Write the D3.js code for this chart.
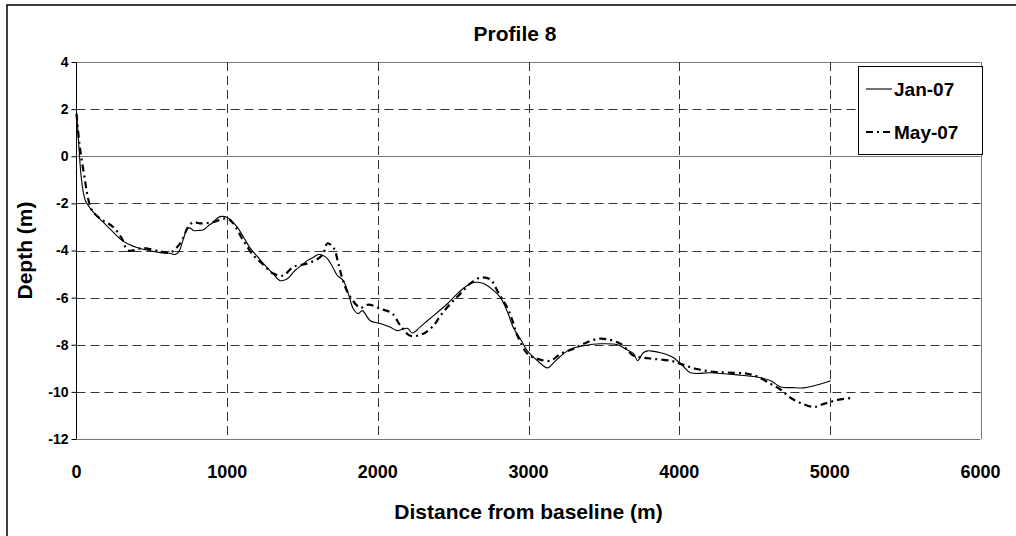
<!DOCTYPE html>
<html>
<head>
<meta charset="utf-8">
<script src="https://cdn.jsdelivr.net/npm/d3@7"></script>
<style>
  body { margin: 0; background: #fff; }
  text { font-family: 'Liberation Sans', Arial, sans-serif; font-weight: bold; fill: #000; }
</style>
</head>
<body>
<div id="content"></div>
<script>
// Data-set: distance from baseline (m) and depth (m) for each survey.
var janDist = [0, 10, 20, 30, 43, 60, 90, 130, 177, 240, 302, 350, 400, 480, 555, 620, 655, 680, 700, 720,
  734, 755, 776, 810, 842, 875, 907, 940, 966, 1000, 1030, 1066, 1110, 1153, 1200, 1239, 1300, 1352, 1399, 1450,
  1500, 1532, 1570, 1605, 1640, 1665, 1700, 1731, 1771, 1804, 1837, 1870, 1897, 1950, 2017, 2080, 2130, 2196, 2229, 2280,
  2329, 2400, 2462, 2528, 2580, 2635, 2701, 2760, 2814, 2860, 2900, 2950, 2993, 3060, 3126, 3166, 3210, 3259, 3310, 3365,
  3478, 3591, 3650, 3698, 3724, 3760, 3791, 3830, 3877, 3920, 3963, 4023, 4076, 4209, 4300, 4389, 4470, 4542, 4608, 4674,
  4750, 4827, 4920, 5007];
var janDepth = [1.9, 1.0, 0.0, -0.8, -1.45, -1.9, -2.2, -2.5, -2.8, -3.2, -3.57, -3.75, -3.87, -4.0, -4.09, -4.12, -4.17, -4.05, -3.7, -3.3,
  -3.06, -3.05, -3.15, -3.15, -3.12, -2.95, -2.8, -2.6, -2.55, -2.6, -2.75, -3.0, -3.45, -3.9, -4.25, -4.55, -4.95, -5.28, -5.2, -4.85,
  -4.6, -4.43, -4.3, -4.17, -4.22, -4.34, -4.7, -5.06, -5.28, -5.83, -6.47, -6.68, -6.55, -6.98, -7.1, -7.25, -7.4, -7.3, -7.5, -7.25,
  -6.98, -6.6, -6.26, -5.83, -5.55, -5.36, -5.4, -5.65, -6.0, -6.6, -7.28, -7.8, -8.26, -8.68, -8.98, -8.77, -8.5, -8.26, -8.12, -8.04,
  -7.96, -8.0, -8.2, -8.38, -8.68, -8.35, -8.26, -8.28, -8.34, -8.42, -8.55, -8.89, -9.19, -9.19, -9.23, -9.28, -9.33, -9.4, -9.53, -9.79,
  -9.82, -9.83, -9.7, -9.53];

var mayDist = [0, 23, 56, 70, 103, 156, 243, 302, 342, 442, 555, 621, 688, 741, 774, 821, 900, 1000, 1040, 1100,
  1173, 1232, 1306, 1372, 1438, 1532, 1605, 1638, 1665, 1705, 1738, 1763, 1804, 1884, 1937, 2017, 2096, 2150, 2216, 2302,
  2369, 2415, 2482, 2548, 2614, 2681, 2747, 2800, 2860, 2894, 2927, 2993, 3060, 3146, 3213, 3299, 3365, 3478, 3611, 3698,
  3764, 3831, 3943, 4010, 4109, 4229, 4362, 4455, 4522, 4608, 4674, 4741, 4807, 4894, 4960, 5053, 5140];
var mayDepth = [1.8, 0.34, -1.0, -1.57, -2.3, -2.64, -3.0, -3.5, -4.0, -3.9, -4.04, -4.09, -3.7, -3.0, -2.8, -2.85, -2.8, -2.64, -2.85, -3.5,
  -4.2, -4.55, -4.98, -5.06, -4.7, -4.55, -4.34, -4.13, -3.7, -3.87, -4.55, -5.15, -5.83, -6.43, -6.3, -6.47, -6.68, -7.19, -7.62, -7.53,
  -7.19, -6.77, -6.26, -5.83, -5.4, -5.15, -5.23, -5.79, -6.43, -6.98, -7.62, -8.38, -8.6, -8.68, -8.38, -8.17, -7.96, -7.74, -7.96, -8.47,
  -8.55, -8.6, -8.68, -8.81, -9.02, -9.15, -9.19, -9.23, -9.36, -9.66, -9.91, -10.26, -10.47, -10.64, -10.51, -10.34, -10.26];

var seriesNames = ['Jan-07', 'May-07'];
var xTicks = [0, 1000, 2000, 3000, 4000, 5000, 6000];
var yTicks = [4, 2, 0, -2, -4, -6, -8, -10, -12];

// Create main SVG container.
var width = 1016, height = 536;
var plot = {left : 76.5, right : 980.5, top : 62, bottom : 439};
var svg = d3.select('#content')
              .append('svg')
              .attr('width', width)
              .attr('height', height);

// Outer chart frame (runs off the right and bottom edge).
svg.append('rect')
    .attr('x', 7).attr('y', 5)
    .attr('width', 1020).attr('height', 540)
    .attr('fill', 'none')
    .attr('stroke', '#000')
    .attr('stroke-width', 1.5);

var x = d3.scaleLinear().domain([ 0, 6000 ]).range([ plot.left, plot.right ]);
var y = d3.scaleLinear().domain([ -12, 4 ]).range([ plot.bottom, plot.top ]);

// Plain hyphen for negatives, like the original.
function fmt(d) { return String(d); }

// Grid lines: dashed, except the top, zero line and frame which are solid grey.
function solidY(d) { return d === 0 || d === 4 || d === -12; }
var grid = svg.append('g');
grid.selectAll('line.h')
    .data(yTicks)
    .enter()
    .append('line')
    .attr('x1', plot.left).attr('x2', plot.right)
    .attr('y1', function(d) { return Math.round(y(d)) + 0.5; })
    .attr('y2', function(d) { return Math.round(y(d)) + 0.5; })
    .attr('stroke', function(d) { return solidY(d) ? '#777' : '#333'; })
    .attr('stroke-dasharray', function(d) { return solidY(d) ? null : '9,5'; });

grid.selectAll('line.v')
    .data(xTicks.slice(1))
    .enter()
    .append('line')
    .attr('y1', plot.top).attr('y2', plot.bottom)
    .attr('x1', function(d) { return Math.round(x(d)) + 0.5; })
    .attr('x2', function(d) { return Math.round(x(d)) + 0.5; })
    .attr('stroke', function(d) { return d === 6000 ? '#777' : '#333'; })
    .attr('stroke-dasharray', function(d) { return d === 6000 ? null : '9,5'; });

// Y axis with outward ticks.
var yAxis = svg.append('g')
    .attr('transform', 'translate(' + plot.left + ',0)')
    .call(d3.axisLeft(y).tickValues(yTicks).tickSize(5).tickPadding(3).tickFormat(fmt));
yAxis.select('.domain').attr('stroke', '#000').attr('d', 'M0,' + plot.top + 'V' + plot.bottom);
yAxis.selectAll('text').style('font-size', '14px');

// X tick labels (no tick marks).
svg.append('g')
    .selectAll('text')
    .data(xTicks)
    .enter()
    .append('text')
    .attr('x', function(d) { return x(d); })
    .attr('y', 478)
    .attr('text-anchor', 'middle')
    .style('font-size', '18px')
    .text(fmt);

// Lines.
var jan = janDist.map(function(d, i) { return [ d, janDepth[i] ]; });
var may = mayDist.map(function(d, i) { return [ d, mayDepth[i] ]; });
var line = d3.line()
    .x(function(d) { return x(d[0]); })
    .y(function(d) { return y(d[1]); })
    .curve(d3.curveCatmullRom);

svg.append('path')
    .attr('d', line(jan))
    .attr('fill', 'none')
    .attr('stroke', '#000')
    .attr('stroke-width', 1.1);

svg.append('path')
    .attr('d', line(may))
    .attr('fill', 'none')
    .attr('stroke', '#000')
    .attr('stroke-width', 2.2)
    .attr('stroke-dasharray', '7,4,2,4');

// Titles.
svg.append('text')
    .attr('x', 515).attr('y', 41)
    .attr('text-anchor', 'middle')
    .style('font-size', '21px')
    .text('Profile 8');

svg.append('text')
    .attr('x', (plot.left + plot.right) / 2).attr('y', 519)
    .attr('text-anchor', 'middle')
    .style('font-size', '21px')
    .text('Distance from baseline (m)');

svg.append('text')
    .attr('transform', 'translate(32,' + (plot.top + plot.bottom) / 2 + ') rotate(-90)')
    .attr('text-anchor', 'middle')
    .style('font-size', '21px')
    .text('Depth (m)');

// Legend.
var legend = svg.append('g');
legend.append('rect')
    .attr('x', 858.5).attr('y', 66.5)
    .attr('width', 124).attr('height', 88)
    .attr('fill', '#fff')
    .attr('stroke', '#000');

var legendY = [ 89, 132 ];
var items = legend.selectAll('g.item')
    .data(seriesNames)
    .enter()
    .append('g');

items.append('line')
    .attr('x1', 866).attr('x2', 892)
    .attr('y1', function(d, i) { return legendY[i]; })
    .attr('y2', function(d, i) { return legendY[i]; })
    .attr('stroke', '#000')
    .attr('stroke-width', function(d, i) { return i ? 2.2 : 1.1; })
    .attr('stroke-dasharray', function(d, i) { return i ? '7,4,2,4' : null; });

items.append('text')
    .attr('x', 894)
    .attr('y', function(d, i) { return legendY[i] + 7; })
    .style('font-size', '19px')
    .text(function(d) { return d; });
</script>
</body>
</html>
